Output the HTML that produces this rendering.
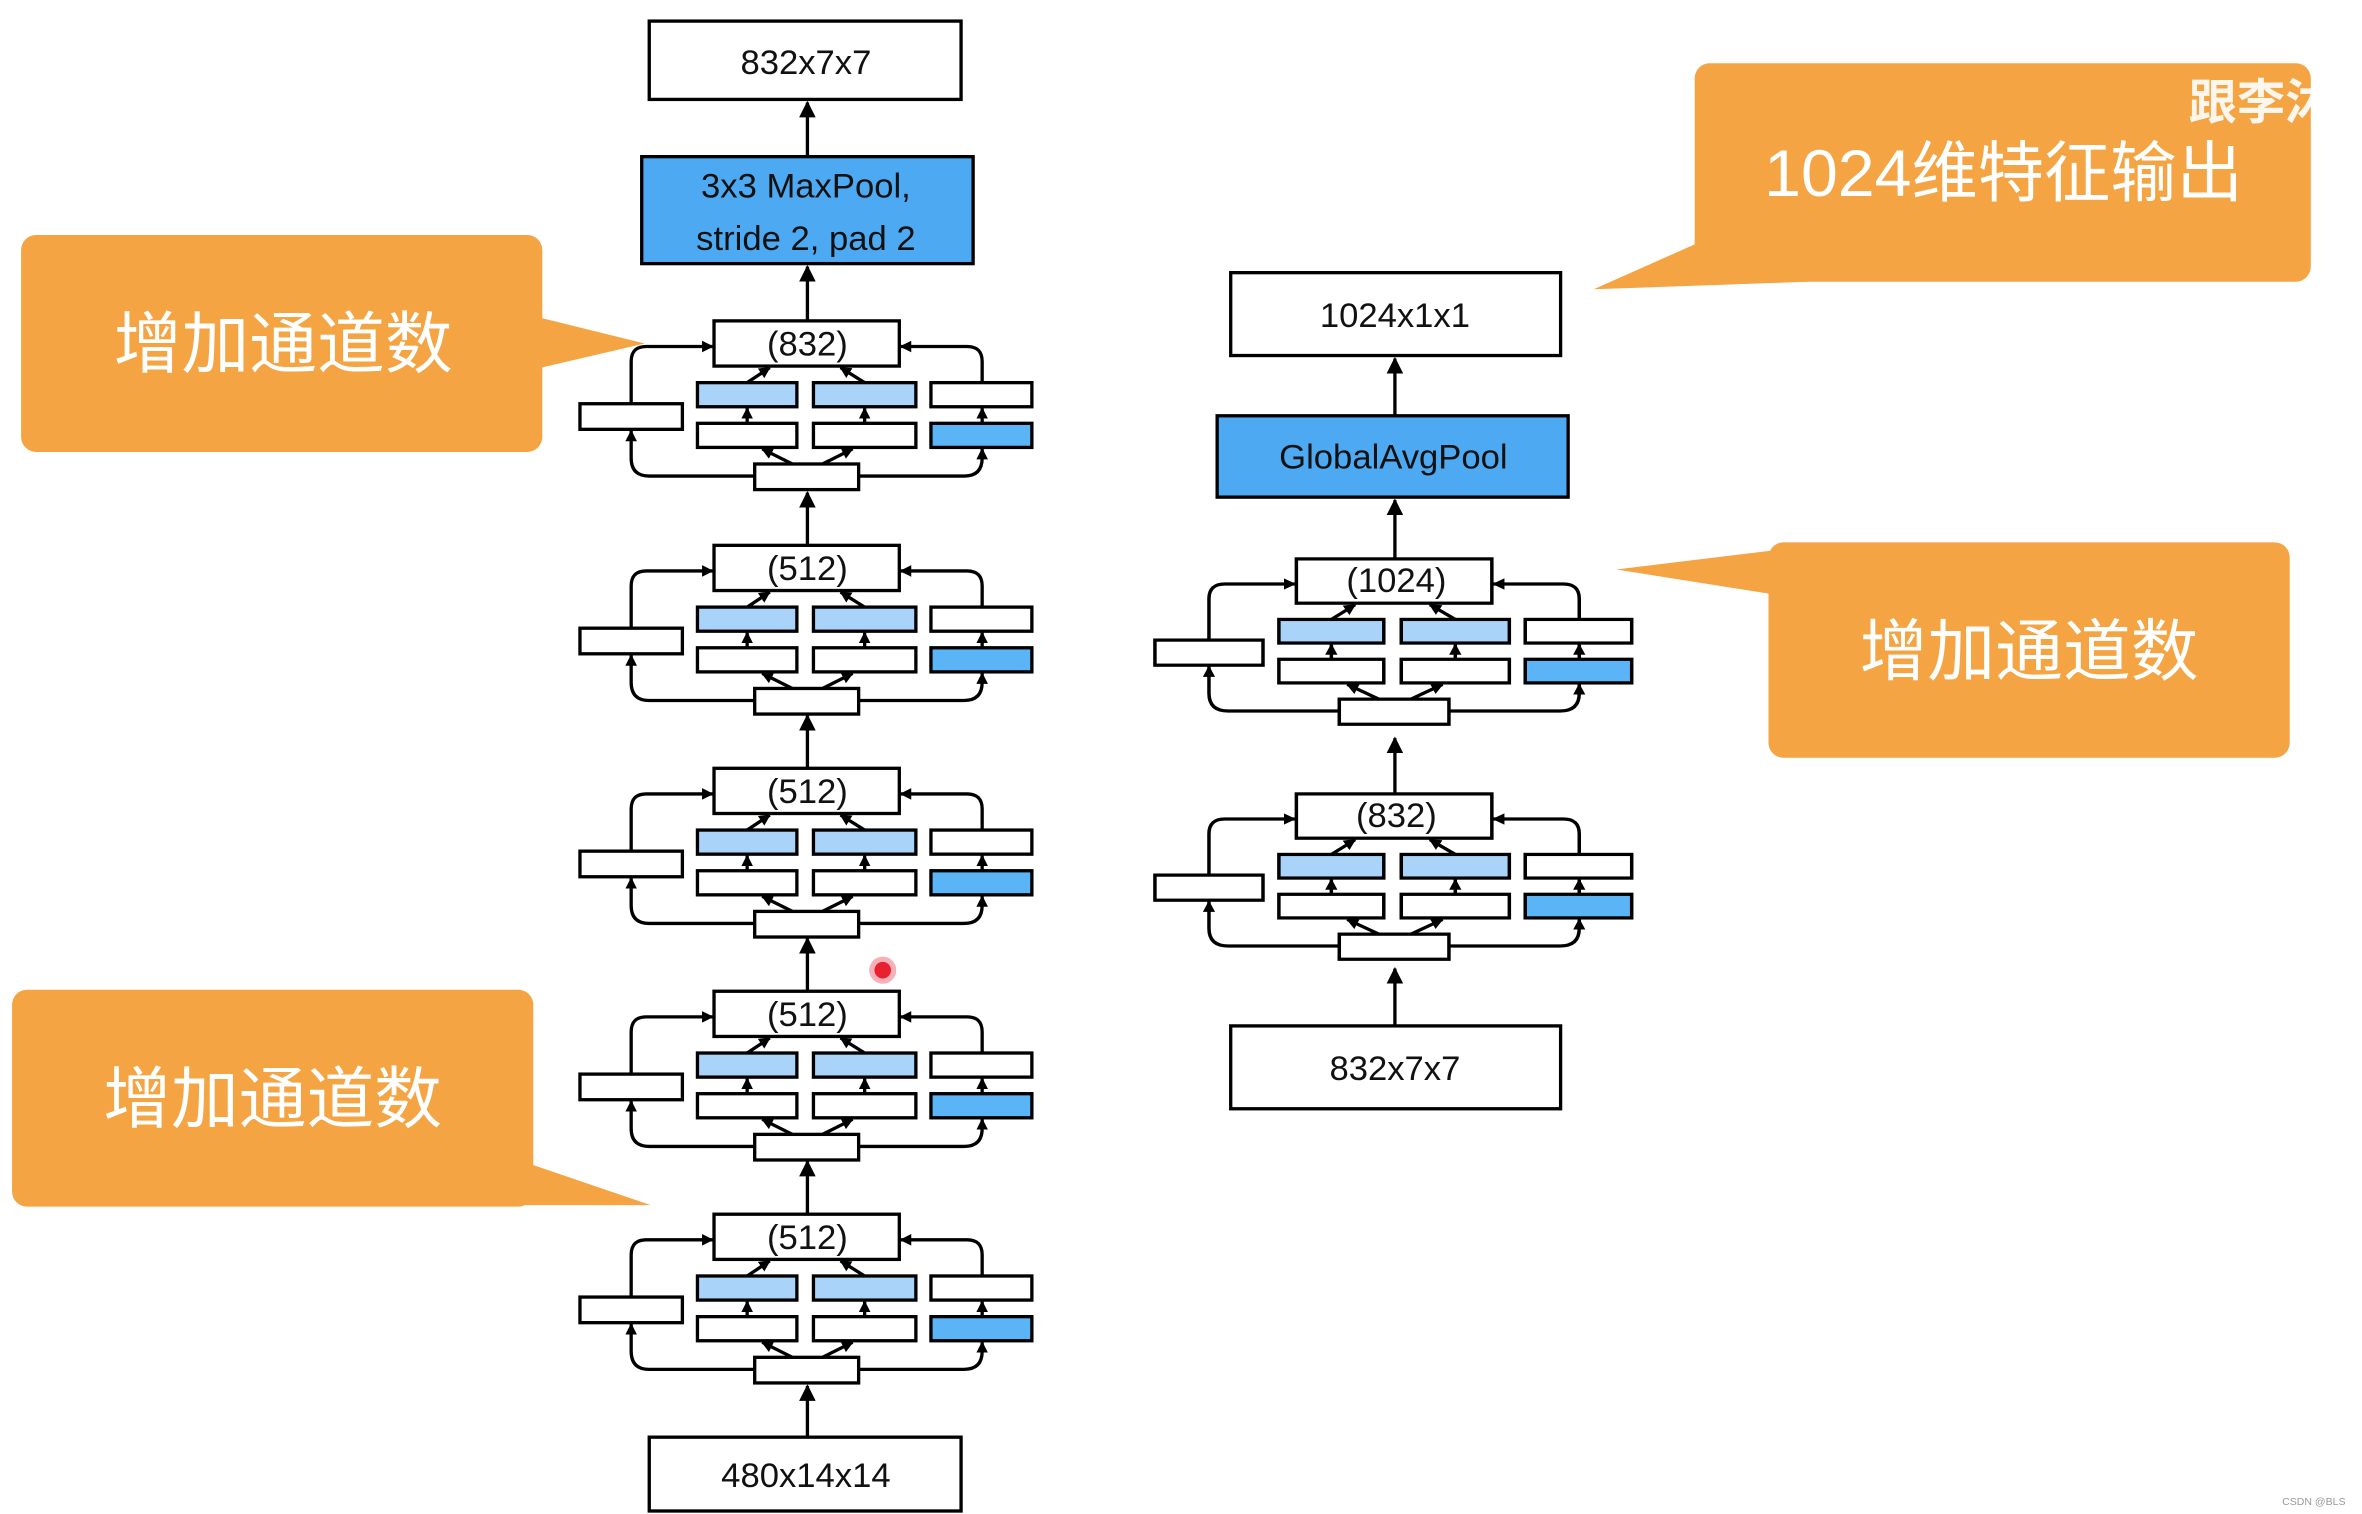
<!DOCTYPE html>
<html><head><meta charset="utf-8"><style>
html,body{margin:0;padding:0;background:#fff;}
svg{display:block;}
text{font-family:"Liberation Sans","Noto Sans CJK SC",sans-serif;}
</style></head><body>
<svg width="2362" height="1514" viewBox="0 0 1568 1005" preserveAspectRatio="none" xmlns="http://www.w3.org/2000/svg">
<defs>
<marker id="a" viewBox="0 0 10 10" refX="9" refY="5" markerWidth="5" markerHeight="5" orient="auto"><path d="M0,0 L10,5 L0,10 z" fill="#000"/></marker>
<marker id="s" viewBox="0 0 10 10" refX="9" refY="5" markerWidth="3.5" markerHeight="3.5" orient="auto"><path d="M0,0 L10,5 L0,10 z" fill="#000"/></marker>
<g id="blk" stroke="#000" stroke-width="2.2" fill="none">
 <rect x="-62" y="0" width="123" height="30" fill="#fff"/>
 <rect x="-151" y="55" width="68" height="17" fill="#fff"/>
 <rect x="-73" y="41" width="66" height="16" fill="#a9d3f8"/>
 <rect x="4" y="41" width="68" height="16" fill="#a9d3f8"/>
 <rect x="82" y="41" width="67" height="16" fill="#fff"/>
 <rect x="-73" y="68" width="66" height="16" fill="#fff"/>
 <rect x="4" y="68" width="68" height="16" fill="#fff"/>
 <rect x="82" y="68" width="67" height="16" fill="#5ab4f5"/>
 <rect x="-35" y="95" width="69" height="17" fill="#fff"/>
 <path d="M-117,55 V27 Q-117,17 -107,17 H-63" marker-end="url(#s)"/>
 <path d="M-35,103 H-105 Q-117,103 -117,91 V73" marker-end="url(#s)"/>
 <path d="M116,41 V27 Q116,17 106,17 H62" marker-end="url(#s)"/>
 <path d="M34,103 H104 Q116,103 116,91 V85" marker-end="url(#s)"/>
 <path d="M-40,68 V58" marker-end="url(#s)"/>
 <path d="M38,68 V58" marker-end="url(#s)"/>
 <path d="M116,68 V58" marker-end="url(#s)"/>
 <path d="M-10,95 L-30,85" marker-end="url(#s)"/>
 <path d="M10,95 L30,85" marker-end="url(#s)"/>
 <path d="M-40,41 L-25,31" marker-end="url(#s)"/>
 <path d="M38,41 L22,31" marker-end="url(#s)"/>
</g>
</defs>

<g stroke="#000" stroke-width="2.2" fill="none">
<rect x="431" y="14" width="207" height="52" fill="#fff"/>
<rect x="426" y="104" width="220" height="71" fill="#4da9f2"/>
<rect x="431" y="954" width="207" height="49" fill="#fff"/>
<path d="M536,104 V68" marker-end="url(#a)"/>
<path d="M536,213 V177" marker-end="url(#a)"/>
<path d="M536,362 V327" marker-end="url(#a)"/>
<path d="M536,510 V475" marker-end="url(#a)"/>
<path d="M536,658 V623" marker-end="url(#a)"/>
<path d="M536,806 V771" marker-end="url(#a)"/>
<path d="M536,954 V920" marker-end="url(#a)"/>
</g>
<use href="#blk" x="536" y="213"/>
<use href="#blk" x="536" y="362"/>
<use href="#blk" x="536" y="510"/>
<use href="#blk" x="536" y="658"/>
<use href="#blk" x="536" y="806"/>
<g font-size="23" text-anchor="middle" fill="#111">
<text x="535" y="49">832x7x7</text>
<text x="535" y="131">3x3 MaxPool,</text>
<text x="535" y="166">stride 2, pad 2</text>
<text x="535" y="987">480x14x14</text>
<text x="536" y="236">(832)</text>
<text x="536" y="385">(512)</text>
<text x="536" y="533">(512)</text>
<text x="536" y="681">(512)</text>
<text x="536" y="829">(512)</text>
</g>

<g stroke="#000" stroke-width="2.2" fill="none">
<rect x="817" y="181" width="219" height="55" fill="#fff"/>
<rect x="808" y="276" width="233" height="54" fill="#4da9f2"/>
<rect x="817" y="681" width="219" height="55" fill="#fff"/>
<path d="M926,276 V238" marker-end="url(#a)"/>
<path d="M926,371 V332" marker-end="url(#a)"/>
<path d="M926,527 V490" marker-end="url(#a)"/>
<path d="M926,681 V643" marker-end="url(#a)"/>
</g>
<g transform="translate(926,371) scale(1.055,0.98)"><use href="#blk"/></g>
<g transform="translate(926,527) scale(1.055,0.98)"><use href="#blk"/></g>
<g font-size="23" text-anchor="middle" fill="#111">
<text x="926" y="217">1024x1x1</text>
<text x="925" y="311">GlobalAvgPool</text>
<text x="926" y="717">832x7x7</text>
<text x="927" y="393">(1024)</text>
<text x="927" y="549">(832)</text>
</g>

<g fill="#f4a442">
<rect x="14" y="156" width="346" height="144" rx="10"/>
<path d="M355,210 L428,228 L355,245 z"/>
<rect x="8" y="657" width="346" height="144" rx="10"/>
<path d="M300,800 L432,800 L350,772 z"/>
<rect x="1125" y="42" width="409" height="145" rx="10"/>
<path d="M1130,160 L1058,192 L1200,187 z"/>
<rect x="1174" y="360" width="346" height="143" rx="10"/>
<path d="M1180,365 L1073,378 L1180,395 z"/>
</g>
<g fill="#fff" font-size="45" text-anchor="middle">
<text x="188" y="244">增加通道数</text>
<text x="181" y="745">增加通道数</text>
<text x="1347" y="448">增加通道数</text>
<text x="1330" y="130" font-size="44">1024维特征输出</text>
</g>
<text x="1453" y="79" font-size="32" font-weight="bold" fill="#fff" opacity="0.9">跟李沐</text>
<circle cx="586" cy="644" r="9" fill="#f7b0b8"/>
<circle cx="586" cy="644" r="5.5" fill="#e8202f"/>
<text x="1515" y="999" font-size="7" fill="#999">CSDN @BLS</text>
</svg>
</body></html>
